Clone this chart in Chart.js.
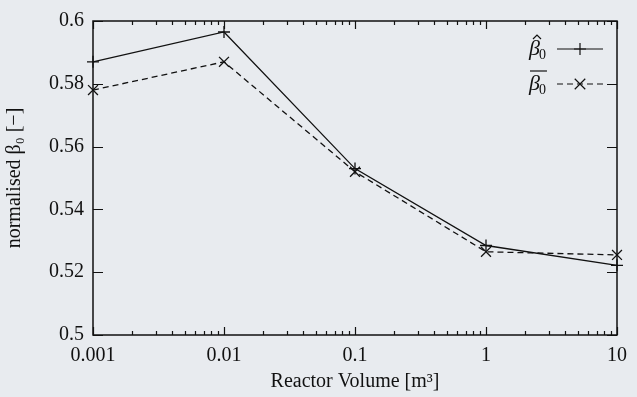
<!DOCTYPE html>
<html lang="en">
<head>
  <meta charset="utf-8">
  <title>Normalised beta0 vs reactor volume</title>
  <script src="https://cdn.jsdelivr.net/npm/chart.js@4.4.1/dist/chart.umd.min.js"></script>
  <style>
  html, body { margin: 0; padding: 0; background: #e8ebef; }
  #holder { width: 637px; height: 397px; }
  </style>
</head>
<body>
  <div id="holder"><canvas id="chart"></canvas></div>
  <script>
    // data
    var volumes = [0.001, 0.01, 0.1, 1, 10];
    var betaHat = [0.587, 0.5965, 0.553, 0.5285, 0.5222];
    var betaBar = [0.578, 0.587, 0.552, 0.5265, 0.5255];
    var xTickLabels = ['0.001', '0.01', '0.1', '1', '10'];
    var yTickLabels = ['0.5', '0.52', '0.54', '0.56', '0.58', '0.6'];

    var serif = "'Liberation Serif', 'DejaVu Serif', serif";
    var paper = '#e8ebef';

    function pts(ys) {
      return volumes.map(function (v, i) { return { x: v, y: ys[i] }; });
    }

    // paper background
    var paperBg = {
      id: 'paperBg',
      beforeDraw: function (chart) {
        var ctx = chart.ctx;
        ctx.save();
        ctx.fillStyle = paper;
        ctx.fillRect(0, 0, chart.width, chart.height);
        ctx.restore();
      }
    };

    // frame with inward ticks (gnuplot style)
    var frameTicks = {
      id: 'frameTicks',
      afterDraw: function (chart) {
        var ctx = chart.ctx, a = chart.chartArea;
        var xs = chart.scales.x, ys = chart.scales.y;
        ctx.save();
        ctx.strokeStyle = '#111';
        ctx.lineWidth = 1.5;
        ctx.strokeRect(a.left, a.top, a.right - a.left, a.bottom - a.top);
        ctx.lineWidth = 1.2;
        ctx.beginPath();
        for (var d = 0; d < volumes.length; d++) {
          for (var m = 1; m <= 9; m++) {
            var v = volumes[d] * m;
            if (v > xs.max * 1.0001) break;
            var px = Math.round(xs.getPixelForValue(v)) + 0.5;
            var len = m === 1 ? 8 : 4;
            ctx.moveTo(px, a.bottom); ctx.lineTo(px, a.bottom - len);
            ctx.moveTo(px, a.top); ctx.lineTo(px, a.top + len);
          }
        }
        yTickLabels.forEach(function (t) {
          var py = Math.round(ys.getPixelForValue(parseFloat(t))) + 0.5;
          ctx.moveTo(a.left, py); ctx.lineTo(a.left + 10, py);
          ctx.moveTo(a.right, py); ctx.lineTo(a.right - 10, py);
        });
        ctx.stroke();
        ctx.restore();
      }
    };

    // legend: label on the left, sample on the right
    var texLegend = {
      id: 'texLegend',
      afterDraw: function (chart) {
        var ctx = chart.ctx, a = chart.chartArea;
        var ds = chart.data.datasets;
        var x0 = a.right - 88, lx0 = a.right - 60, lx1 = a.right - 14;
        ctx.save();
        ds.forEach(function (d, i) {
          var y = a.top + 28 + i * 35;
          ctx.fillStyle = '#111';
          ctx.textBaseline = 'alphabetic';
          ctx.font = 'italic 22px ' + serif;
          ctx.fillText('\u03b2', x0, y + 6);
          var bw = ctx.measureText('\u03b2').width;
          ctx.font = '14px ' + serif;
          ctx.fillText('0', x0 + bw - 1, y + 10);
          ctx.strokeStyle = '#111';
          ctx.lineWidth = 1.2;
          if (i === 0) {
            ctx.beginPath();
            ctx.moveTo(x0 + 4, y - 10); ctx.lineTo(x0 + 8, y - 14); ctx.lineTo(x0 + 12, y - 10);
            ctx.stroke();
          } else {
            ctx.beginPath();
            ctx.moveTo(x0 + 1, y - 13); ctx.lineTo(x0 + bw + 7, y - 13);
            ctx.stroke();
          }
          ctx.setLineDash(d.borderDash || []);
          ctx.beginPath();
          ctx.moveTo(lx0, y); ctx.lineTo(lx1, y);
          ctx.stroke();
          ctx.setLineDash([]);
          var cx = (lx0 + lx1) / 2, r = d.pointRadius;
          ctx.beginPath();
          if (d.pointStyle === 'cross') {
            ctx.moveTo(cx - r, y); ctx.lineTo(cx + r, y);
            ctx.moveTo(cx, y - r); ctx.lineTo(cx, y + r);
          } else {
            var q = r * 0.75;
            ctx.moveTo(cx - q, y - q); ctx.lineTo(cx + q, y + q);
            ctx.moveTo(cx - q, y + q); ctx.lineTo(cx + q, y - q);
          }
          ctx.stroke();
        });
        ctx.restore();
      }
    };

    var config = {
      type: 'line',
      data: {
        datasets: [{
          label: 'beta hat',
          data: pts(betaHat),
          borderColor: '#111',
          backgroundColor: '#111',
          borderWidth: 1.3,
          pointStyle: 'cross',
          pointRadius: 6,
          pointBorderWidth: 1.3,
          tension: 0
        }, {
          label: 'beta bar',
          data: pts(betaBar),
          borderColor: '#111',
          backgroundColor: '#111',
          borderWidth: 1.3,
          borderDash: [6, 4],
          pointStyle: 'crossRot',
          pointRadius: 7,
          pointBorderWidth: 1.3,
          tension: 0
        }]
      },
      options: {
        responsive: true,
        maintainAspectRatio: false,
        animation: false,
        clip: false,
        layout: { padding: { top: 20, right: 20, left: 0, bottom: 0 } },
        plugins: {
          legend: { display: false },
          tooltip: { enabled: false }
        },
        scales: {
          x: {
            type: 'logarithmic',
            min: 0.001,
            max: 10,
            afterBuildTicks: function (scale) {
              scale.ticks = volumes.map(function (v) { return { value: v }; });
            },
            afterFit: function (scale) { scale.height = 62; },
            grid: { display: false, drawTicks: false },
            border: { display: false },
            ticks: {
              padding: 9,
              maxRotation: 0,
              color: '#111',
              font: { family: serif, size: 20 },
              callback: function (v, i) { return xTickLabels[i]; }
            },
            title: {
              display: true,
              text: 'Reactor Volume [m\u00b3]',
              color: '#111',
              font: { family: serif, size: 20 },
              padding: { top: 0, bottom: 3 }
            }
          },
          y: {
            min: 0.5,
            max: 0.6,
            afterBuildTicks: function (scale) {
              scale.ticks = yTickLabels.map(function (t) { return { value: parseFloat(t) }; });
            },
            afterFit: function (scale) { scale.width = 93; },
            grid: { display: false, drawTicks: false },
            border: { display: false },
            ticks: {
              padding: 9,
              color: '#111',
              font: { family: serif, size: 20 },
              callback: function (v, i) { return yTickLabels[i]; }
            },
            title: {
              display: true,
              text: 'normalised \u03b2\u2080 [\u2212]',
              color: '#111',
              font: { family: serif, size: 20 },
              padding: { top: 3, bottom: 0 }
            }
          }
        }
      },
      plugins: [paperBg, frameTicks, texLegend]
    };

    window.onload = function () {
      var ctx = document.getElementById('chart').getContext('2d');
      window.myChart = new Chart(ctx, config);
    };
  </script>
</body>
</html>
